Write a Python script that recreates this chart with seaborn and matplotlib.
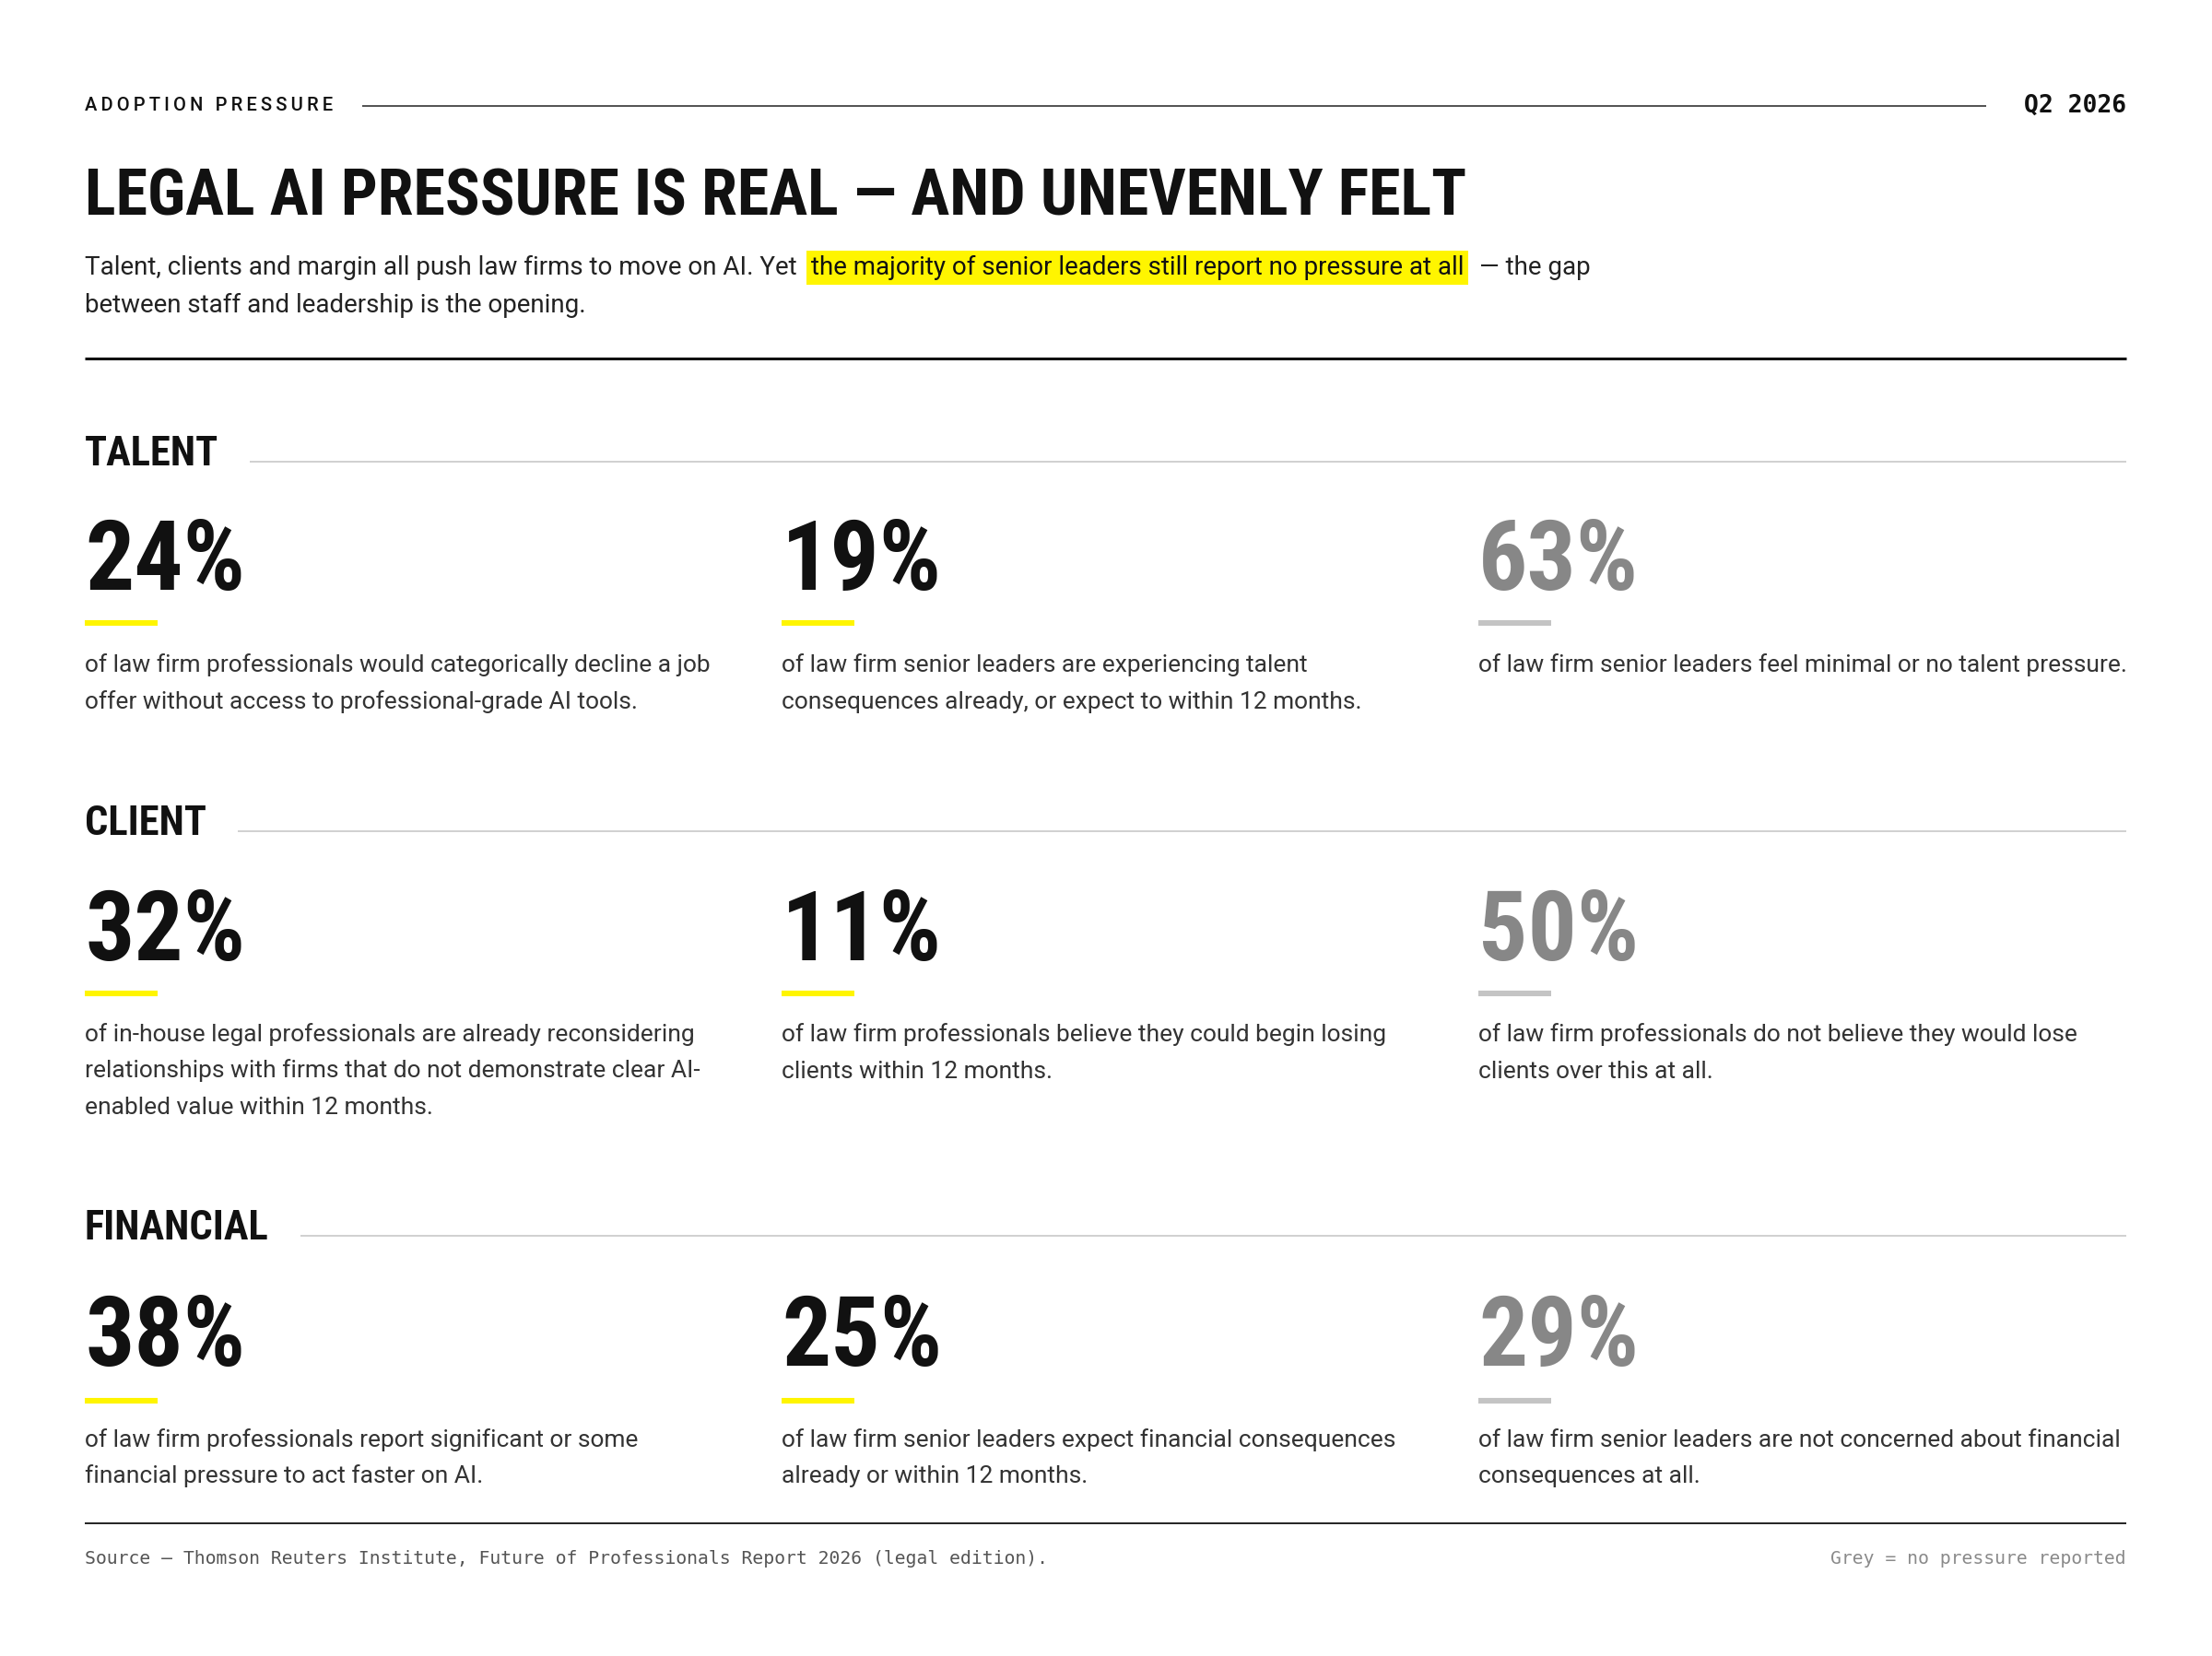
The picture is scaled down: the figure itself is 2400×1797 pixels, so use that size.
import matplotlib
matplotlib.use('Agg')
import matplotlib.pyplot as plt
from matplotlib import font_manager
import seaborn as sns

# ---- data ----
kicker = "ADOPTION PRESSURE"
period = "Q2 2026"
title = "LEGAL AI PRESSURE IS REAL — AND UNEVENLY FELT"
sub_lead = "Talent, clients and margin all push law firms to move on AI. Yet"
sub_mark = "the majority of senior leaders still report no pressure at all"
sub_tail = "— the gap"
sub_line2 = "between staff and leadership is the opening."

sections = ["TALENT", "CLIENT", "FINANCIAL"]
values = [[24, 19, 63], [32, 11, 50], [38, 25, 29]]
no_pressure = [False, False, True]
notes = [
    ["of law firm professionals would categorically decline a job\noffer without access to professional-grade AI tools.",
     "of law firm senior leaders are experiencing talent\nconsequences already, or expect to within 12 months.",
     "of law firm senior leaders feel minimal or no talent pressure."],
    ["of in-house legal professionals are already reconsidering\nrelationships with firms that do not demonstrate clear AI-\nenabled value within 12 months.",
     "of law firm professionals believe they could begin losing\nclients within 12 months.",
     "of law firm professionals do not believe they would lose\nclients over this at all."],
    ["of law firm professionals report significant or some\nfinancial pressure to act faster on AI.",
     "of law firm senior leaders expect financial consequences\nalready or within 12 months.",
     "of law firm senior leaders are not concerned about financial\nconsequences at all."],
]
source = "Source — Thomson Reuters Institute, Future of Professionals Report 2026 (legal edition)."
legend_note = "Grey = no pressure reported"

# ---- style ----
sns.set_theme(style="white")
avail = {f.name for f in font_manager.fontManager.ttflist}


def pick(*names):
    for n in names:
        if n in avail:
            return n
    return "DejaVu Sans"


COND = pick("Roboto Condensed", "Liberation Sans Narrow", "DejaVu Sans")
BODY = pick("Roboto", "Inter", "DejaVu Sans")
MONO = pick("DejaVu Sans Mono", "Liberation Mono")
plt.rcParams['font.family'] = [BODY, 'DejaVu Sans']

YELLOW = "#FFF500"
INK = "#111111"
GREY_NUM = "#878787"
GREY_BAR = "#C4C4C4"
TEXT = "#333333"

W, H = 2400, 1797
fig = plt.figure(figsize=(W / 100, H / 100), dpi=100)
ax = fig.add_axes([0, 0, 1, 1])
ax.set_xlim(0, W)
ax.set_ylim(H, 0)
ax.axis('off')
renderer = fig.canvas.get_renderer()
inv = ax.transData.inverted()


def right_edge(t):
    bb = t.get_window_extent(renderer)
    return inv.transform((bb.x1, bb.y0))[0]


L, R = 92, 2307

# header (tracked caps)
spaced = "\u2009".join(kicker)
ax.text(L, 115, spaced, fontsize=14.5, family=[BODY, 'DejaVu Sans'], weight='medium',
        color=INK, va='center', ha='left')
ax.plot([393, 2155], [115, 115], color="#333333", lw=1.2, solid_capstyle='butt')
ax.text(R, 115, period, fontsize=19, family=MONO, weight='bold', color=INK, va='center', ha='right')

# title
ax.text(L, 233, title, fontsize=50.5, family=COND, weight='heavy', color=INK, va='baseline', ha='left')

# subtitle with highlight
FS = 20
t1 = ax.text(L, 298, sub_lead, fontsize=FS, family=BODY, color="#222222", va='baseline')
x = right_edge(t1) + 15
t2 = ax.text(x, 298, sub_mark, fontsize=FS, family=BODY, color="#111111", va='baseline',
             bbox=dict(boxstyle='square,pad=0.17', fc=YELLOW, ec='none'))
x = right_edge(t2) + 17
ax.text(x, 298, sub_tail, fontsize=FS, family=BODY, color="#222222", va='baseline')
ax.text(L, 339, sub_line2, fontsize=FS, family=BODY, color="#222222", va='baseline')

ax.plot([L, R], [389, 389], color=INK, lw=2.2, solid_capstyle='butt')

# sections
col_x = [92, 848, 1604]
label_y = [505, 906, 1345]
num_y = [640, 1042, 1482]
bar_y = [676, 1078, 1520]
note_y = [729, 1130, 1570]

for i, sec in enumerate(sections):
    lab = ax.text(L, label_y[i], sec, fontsize=32, family=COND, weight='bold', color=INK, va='baseline')
    lx = right_edge(lab) + 34
    ax.plot([lx, R], [label_y[i] - 4, label_y[i] - 4], color="#C8C8C8", lw=1.2, solid_capstyle='butt')
    for j, v in enumerate(values[i]):
        grey = no_pressure[j]
        cx = col_x[j]
        ax.text(cx, num_y[i], f"{v}%", fontsize=76, family=COND, weight='bold',
                color=GREY_NUM if grey else INK, va='baseline', ha='left')
        ax.plot([cx, cx + 79], [bar_y[i], bar_y[i]], color=GREY_BAR if grey else YELLOW,
                lw=4.4, solid_capstyle='butt')
        for k, line in enumerate(notes[i][j].split("\n")):
            ax.text(cx, note_y[i] + k * 39.5, line, fontsize=19, family=BODY, color=TEXT, va='baseline')

# footer
ax.plot([L, R], [1653, 1653], color=INK, lw=1.3, solid_capstyle='butt')
ax.text(L, 1697, source, fontsize=14.2, family=MONO, color="#555555", va='baseline')
ax.text(R, 1697, legend_note, fontsize=14.2, family=MONO, color="#8A8A8A", va='baseline', ha='right')

fig.savefig("out.png", dpi=100, facecolor='white')
